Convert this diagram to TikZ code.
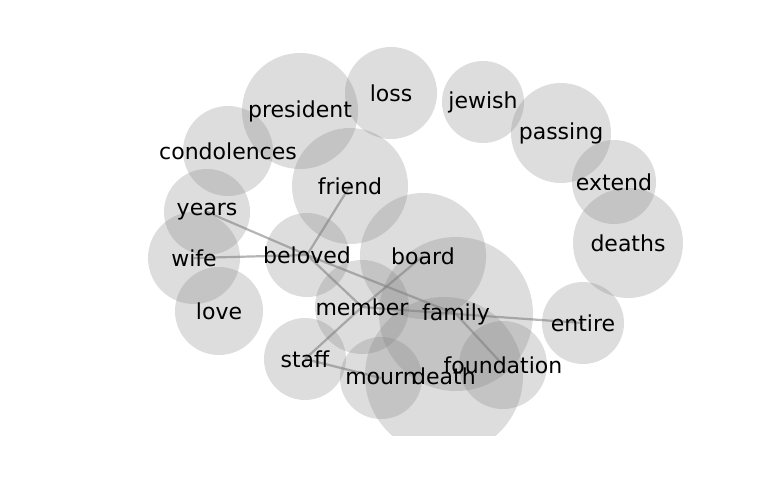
\documentclass[tikz,border=0pt]{standalone}
\usepackage{fontspec}
\setmainfont{DejaVu Sans}
\usetikzlibrary{backgrounds}
\definecolor{bubblegray}{RGB}{128,128,128}
\definecolor{linkgray}{RGB}{150,150,150}

\begin{document}
\begin{tikzpicture}[
    x=1pt, y=-1pt,
    word/.style = {inner sep=0pt, font=\fontsize{22}{26}\selectfont},
    bubble/.style = {fill=bubblegray, fill opacity=0.27},
    link/.style = {draw=linkgray, line width=2.2pt, opacity=0.7},
  ]
    \useasboundingbox (0,0) rectangle (768,500);

    % Outer ring of words
    \node[word] (president)   at (300,111) {president};
    \node[word] (loss)        at (391,93)  {loss};
    \node[word] (jewish)      at (483,102) {jewish};
    \node[word] (passing)     at (561,133) {passing};
    \node[word] (extend)      at (614,182) {extend};
    \node[word] (deaths)      at (628,243) {deaths};
    \node[word] (condolences) at (228,151) {condolences};
    \node[word] (years)       at (207,212) {years};
    \node[word] (wife)        at (194,258) {wife};
    \node[word] (love)        at (219,311) {love};
    \node[word] (entire)      at (583,323) {entire};

    % Inner cluster
    \node[word] (friend)     at (350,186) {friend};
    \node[word] (beloved)    at (307,255) {beloved};
    \node[word] (board)      at (423,256) {board};
    \node[word] (member)     at (362,307) {member};
    \node[word] (family)     at (456,314) {family};
    \node[word] (staff)      at (305,359) {staff};
    \node[word] (mourn)      at (381,378) {mourn};
    \node[word] (death)      at (444,376) {death};
    \node[word] (foundation) at (503,365) {foundation};

    \begin{scope}[on background layer]
      \clip (0,0) rectangle (768,435);

      % Links
      \draw[link] (years.center)   -- (beloved.center);
      \draw[link] (wife.center)    -- (beloved.center);
      \draw[link] (friend.center)  -- (beloved.center);
      \draw[link] (beloved.center) -- (member.center);
      \draw[link] (beloved.center) -- (family.center);
      \draw[link] (board.center)   -- (member.center);
      \draw[link] (member.center)  -- (staff.center);
      \draw[link] (member.center)  -- (family.center);
      \draw[link] (family.center)  -- (entire.center);
      \draw[link] (family.center)  -- (foundation.center);
      \draw[link] (staff.center)   -- (mourn.center);

      % Bubbles
      \fill[bubble] (president)   circle[radius=58pt];
      \fill[bubble] (loss)        circle[radius=46pt];
      \fill[bubble] (jewish)      circle[radius=41pt];
      \fill[bubble] (passing)     circle[radius=50pt];
      \fill[bubble] (extend)      circle[radius=42pt];
      \fill[bubble] (deaths)      circle[radius=55pt];
      \fill[bubble] (condolences) circle[radius=45pt];
      \fill[bubble] (years)       circle[radius=43pt];
      \fill[bubble] (wife)        circle[radius=46pt];
      \fill[bubble] (love)        circle[radius=44pt];
      \fill[bubble] (entire)      circle[radius=41pt];
      \fill[bubble] (friend)      circle[radius=58pt];
      \fill[bubble] (beloved)     circle[radius=42pt];
      \fill[bubble] (board)       circle[radius=63pt];
      \fill[bubble] (member)      circle[radius=47pt];
      \fill[bubble] (family)      circle[radius=77pt];
      \fill[bubble] (staff)       circle[radius=41pt];
      \fill[bubble] (mourn)       circle[radius=41pt];
      \fill[bubble] (death)       circle[radius=79pt];
      \fill[bubble] (foundation)  circle[radius=44pt];
    \end{scope}
  \end{tikzpicture}
\end{document}
